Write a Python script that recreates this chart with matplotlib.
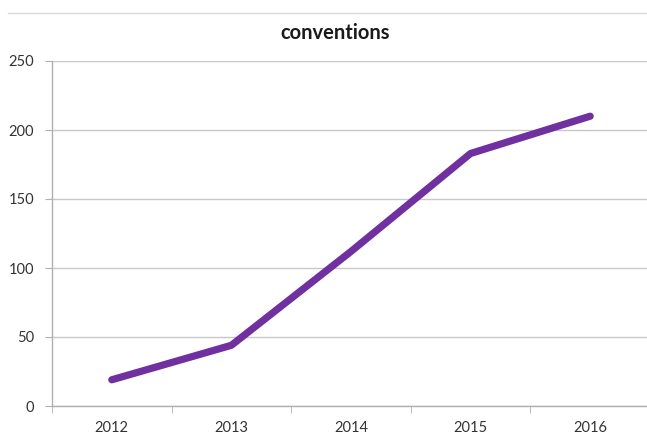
import matplotlib
matplotlib.use("Agg")
import matplotlib.pyplot as plt
from matplotlib.lines import Line2D
import numpy as np

years = ['2012', '2013', '2014', '2015', '2016']
conventions = [19, 44, 112, 183, 210]

plt.rcParams['font.family'] = ['Lato', 'DejaVu Sans']

fig = plt.figure(figsize=(6.47, 4.36), dpi=100)
# plot area, slightly cropped on the right like the screenshot
ax = fig.add_axes([52 / 647, 30 / 436, 598 / 647, 345 / 436])

x = np.arange(len(years))
ax.plot(x, conventions, color='#7030A0', linewidth=5.2, solid_capstyle='round',
        solid_joinstyle='round', zorder=3)

ax.set_xlim(-0.5, len(years) - 0.5)
ax.set_ylim(0, 250)
ax.set_yticks(range(0, 251, 50))
ax.set_xticks(x)
ax.set_xticklabels(years)
ax.set_xticks(np.arange(-0.5, len(years)), minor=True)

ax.grid(axis='y', color='#c8c8c8', linewidth=1.0, zorder=0)
for s in ['top', 'right']:
    ax.spines[s].set_visible(False)
for s in ['left', 'bottom']:
    ax.spines[s].set_color('#b0b0b0')
    ax.spines[s].set_linewidth(1.0)

ax.tick_params(axis='x', which='major', length=0, pad=11, labelsize=10.5, labelcolor='#333333')
ax.tick_params(axis='x', which='minor', length=5, color='#b0b0b0', direction='out')
ax.tick_params(axis='y', length=5, color='#b0b0b0', pad=8, labelsize=10.5, labelcolor='#333333')

fig.text(0.5175, 1 - 33 / 436, 'conventions', ha='center', va='center',
         fontsize=14.5, fontweight='bold', color='#1a1a1a')

# thin border line at the top of the chart frame
fig.add_artist(Line2D([8 / 647, 1], [1 - 13 / 436, 1 - 13 / 436],
                      color='#d9d9d9', linewidth=1.0, transform=fig.transFigure))

fig.savefig('out.png', dpi=100)
